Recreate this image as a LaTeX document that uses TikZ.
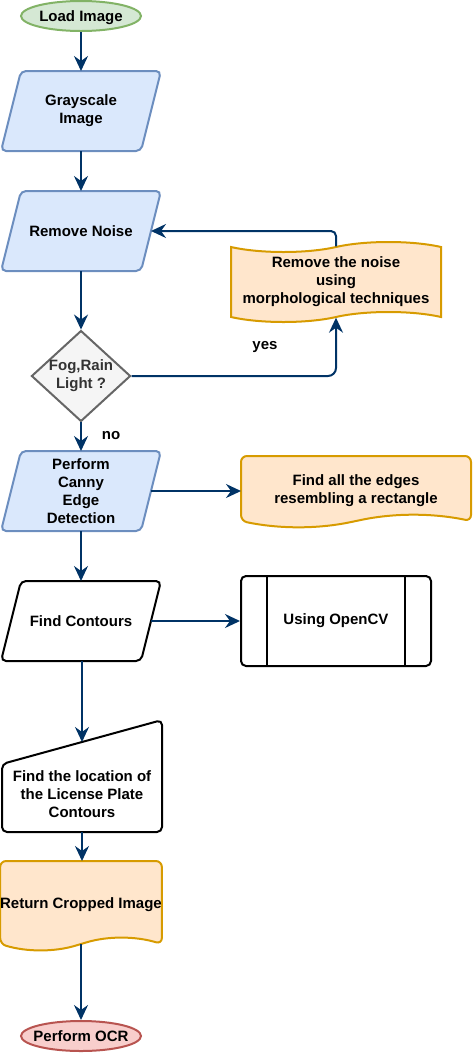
\documentclass[tikz,border=0pt]{standalone}
\usepackage{fontspec}
\setmainfont{Liberation Sans}
\usetikzlibrary{positioning, calc, arrows.meta, shapes.geometric, shapes.symbols, backgrounds}
\definecolor{arrowblue}{HTML}{003366}
\definecolor{greenfill}{HTML}{D5E8D4}
\definecolor{greenline}{HTML}{82B366}
\definecolor{bluefill}{HTML}{DAE8FC}
\definecolor{blueline}{HTML}{6C8EBF}
\definecolor{grayfill}{HTML}{F5F5F5}
\definecolor{grayline}{HTML}{666666}
\definecolor{graytext}{HTML}{333333}
\definecolor{orangefill}{HTML}{FFE6CC}
\definecolor{orangeline}{HTML}{D79B00}
\definecolor{redfill}{HTML}{F8CECC}
\definecolor{redline}{HTML}{B85450}
\tikzset{
base/.style={
  font=\fontsize{15}{18}\selectfont\bfseries,
  align=center,
  line width=2pt,
  inner sep=0pt
  },
startstop/.style={
  base, ellipse, draw, text depth=0pt, inner xsep=-6pt,
  minimum width=120pt, minimum height=30pt
  },
io/.style={
  base, rectangle, outer sep=0pt,
  minimum width=140pt, minimum height=80pt
  },
decision/.style={
  base, diamond, draw=grayline, fill=grayfill, text=graytext,
  aspect=1.09, minimum width=98pt, minimum height=90pt
  },
tapebox/.style={
  base, tape, draw=orangeline, fill=orangefill,
  tape bend top=in and out, tape bend bottom=in and out,
  tape bend height=10pt
  },
docbox/.style={
  base, rectangle, outer sep=0pt
  },
process/.style={
  base, rectangle, draw, rounded corners=5pt,
  minimum width=190pt, minimum height=90pt
  },
manual/.style={
  base, rectangle,
  minimum width=158pt, minimum height=110pt
  },
lbl/.style={font=\fontsize{15}{18}\selectfont\bfseries, inner sep=0pt},
line/.style={-{Stealth[length=15pt, width=14pt, inset=5pt]}, line width=2pt, draw=arrowblue}
}
\begin{document}
\begin{tikzpicture}[x=1pt, y=-1pt]
\useasboundingbox (0,0) rectangle (473,1053);
% main column
\node[startstop, fill=greenfill, draw=greenline] (load) at (81,16) {Load Image};
\node[io] (gray) at (81,111) {Grayscale\\Image};
\node[io] (noise) at (81,231) {Remove Noise};
\node[decision] (fog) at (81,376) {Fog,Rain\\Light ?};
\node[io] (canny) at (81,491) {Perform\\Canny\\Edge\\Detection};
\node[io] (cont) at (81,621) {Find Contours};
\node[manual] (mi) at (82,776) {};
\draw[line width=2pt, rounded corners=5pt] (mi.south) -- (mi.south west)
  -- ($(mi.north west)+(0,44)$) -- (mi.north east) -- (mi.south east) -- cycle;
\coordinate (mitop) at ($(mi.north)+(0,22)$);
\node[base] (mitext) at (82,794) {Find the location of\\the License Plate\\Contours};
\node[docbox, minimum width=160pt, minimum height=88pt] (crop) at (81,905) {Return Cropped Image};
\coordinate (cropout) at ($(crop.south)+(0,-5)$);
\node[startstop, fill=redfill, draw=redline] (ocr) at (81,1036) {Perform OCR};
% side notes
\node[tapebox, minimum width=210pt, minimum height=80pt] (morph) at (336,282) {Remove the noise\\using\\morphological techniques};
\node[docbox, minimum width=230pt, minimum height=70pt] (edges) at (356,491) {Find all the edges\\resembling a rectangle};
\node[process] (ocv) at (336,621) {Using OpenCV};
\draw[line width=2pt] ($(ocv.north west)+(27,0)$) -- ($(ocv.south west)+(27,0)$);
\draw[line width=2pt] ($(ocv.north east)+(-27,0)$) -- ($(ocv.south east)+(-27,0)$);
% outlines behind the text
\begin{scope}[on background layer]
\foreach \n/\f/\d in {gray/bluefill/blueline, noise/bluefill/blueline,
                      canny/bluefill/blueline, cont/white/black}
  \filldraw[fill=\f, draw=\d, line width=2pt, rounded corners=5pt]
    (\n.south) -- ($(\n.south west)+(-10,0)$) -- ($(\n.north west)+(10,0)$)
    -- ($(\n.north east)+(10,0)$) -- ($(\n.south east)+(-10,0)$) -- cycle;
\foreach \n/\w in {edges/230, crop/160}
  \filldraw[fill=orangefill, draw=orangeline, line width=2pt, rounded corners=6pt]
    (\n.west) -- (\n.north west) -- (\n.north east) -- ($(\n.south east)+(0,-5)$)
    .. controls +(-\w/6,-8) and +(\w/6,-8) .. ($(\n.south)+(0,-5)$)
    .. controls +(-\w/6,8) and +(\w/6,8) .. ($(\n.south west)+(0,-5)$) -- cycle;
\end{scope}
% connectors
\draw[line] (load.south) -- (gray.north);
\draw[line] (gray.south) -- (noise.north);
\draw[line] (noise.south) -- (fog.north);
\draw[line] (fog.south) -- (canny.north);
\node[lbl] (no) at (111,436) {no};
\draw[line, rounded corners=8pt] (fog.east) -| (morph.south);
\node[lbl] (yes) at (265,347) {yes};
\draw[line, rounded corners=5pt] (morph.north) |- (noise.east);
\draw[line] (canny.south) -- (cont.north);
\draw[line] (canny.east) -- (edges.west);
\draw[line] (cont.east) -- (ocv.west);
\draw[line] (mitop |- cont.south) -- (mitop);
\draw[line] (mi.south) -- (mi.south |- crop.north);
\draw[line] (cropout) -- (ocr.north);
\end{tikzpicture}
\end{document}
